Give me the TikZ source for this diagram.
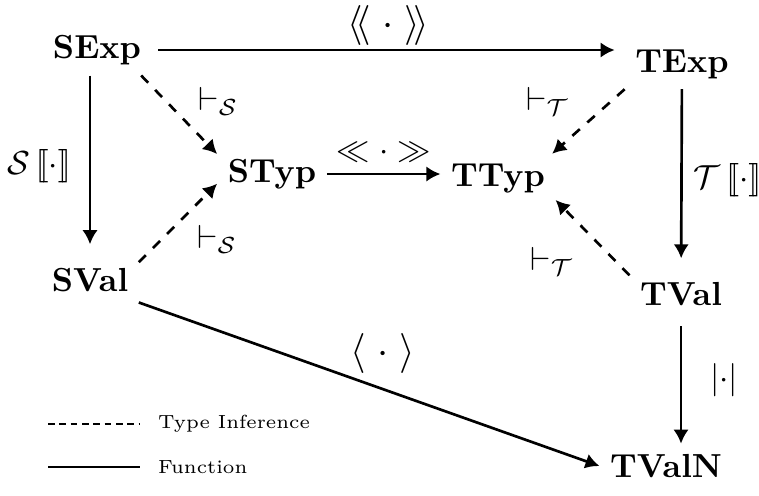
\documentclass[tikz,border=0pt]{standalone}
\usetikzlibrary{arrows.meta}

\begin{document}
\begin{tikzpicture}[>={Latex[length=4.2pt,width=4.6pt]},x=0.3pt,y=-0.3pt,
  obj/.style={font=\bfseries,inner sep=3pt},
  fun/.style={->,line width=0.8pt},
  inf/.style={->,line width=0.8pt,dashed},
  biglabel/.style={font=\fontsize{13}{15}\selectfont},
  legendtext/.style={font=\fontsize{5.7}{7}\selectfont,inner sep=2pt}]
  \useasboundingbox (0,0) rectangle (759,495);
  % objects
  \node[obj] (sexp) at (97,50) {SExp};
  \node[obj] (texp) at (682,64) {TExp};
  \node[obj] (styp) at (272,174) {STyp};
  \node[obj] (ttyp) at (498,179) {TTyp};
  \node[obj] (sval) at (90,280) {SVal};
  \node[obj] (tval) at (681,294) {TVal};
  \node[obj] (tvaln) at (666,466) {TValN};
  % functions
  \draw[fun,shorten <=2pt,shorten >=3pt] (sexp) -- (sexp -| texp.west)
    node[midway,above,biglabel,inner sep=1pt] (l1) {$\langle\!\langle\;\cdot\;\rangle\!\rangle$};
  \draw[fun,shorten >=4pt] (sexp.south -| sval) -- (sval)
    node[midway,left=2pt] (l2) {$\mathcal{S}\,[\![\cdot]\!]$};
  \draw[fun] (styp) -- (styp -| ttyp.west)
    node[midway,above] (l3) {$\ll\cdot\gg$};
  \draw[fun,shorten >=4pt] (texp) -- (tval)
    node[midway,right=0pt] (l4) {$\mathcal{T}\,[\![\cdot]\!]$};
  \draw[fun,shorten <=3pt] (tval) -- (tval |- tvaln.north)
    node[midway,right=5pt] (l5) {$|{\cdot}|$};
  \draw[fun] (sval.south east) -- (tvaln.west)
    node[pos=0.53,above=1pt,biglabel] (l6) {$\langle\;\cdot\;\rangle$};
  % type inference
  \draw[inf] (sexp.-30) -- (styp.160)
    node[midway,anchor=west,xshift=2pt,yshift=4pt] (l7) {$\vdash_{\mathcal{S}}$};
  \draw[inf] (sval.20) -- (styp.190)
    node[midway,anchor=west,xshift=2pt,yshift=-5pt] (l8) {$\vdash_{\mathcal{S}}$};
  \draw[inf] (texp.south west) -- (ttyp.25)
    node[midway,anchor=east,xshift=-2pt,yshift=6pt] (l9) {$\vdash_{\mathcal{T}}$};
  \draw[inf] (tval.160) -- (ttyp.-20)
    node[midway,anchor=east,xshift=-2pt,yshift=-7pt] (l10) {$\vdash_{\mathcal{T}}$};
  % legend
  \coordinate (infa) at (48,424);
  \coordinate (infb) at (140,424);
  \coordinate (funa) at (48,467);
  \coordinate (funb) at (140,467);
  \draw[line width=0.8pt,dash pattern=on 2pt off 1.4pt] (infa) -- (infb)
    node[right=3pt,legendtext] (inftext) {Type Inference};
  \draw[line width=0.8pt] (funa) -- (funb)
    node[right=3pt,legendtext] (funtext) {Function};
\end{tikzpicture}
\end{document}
